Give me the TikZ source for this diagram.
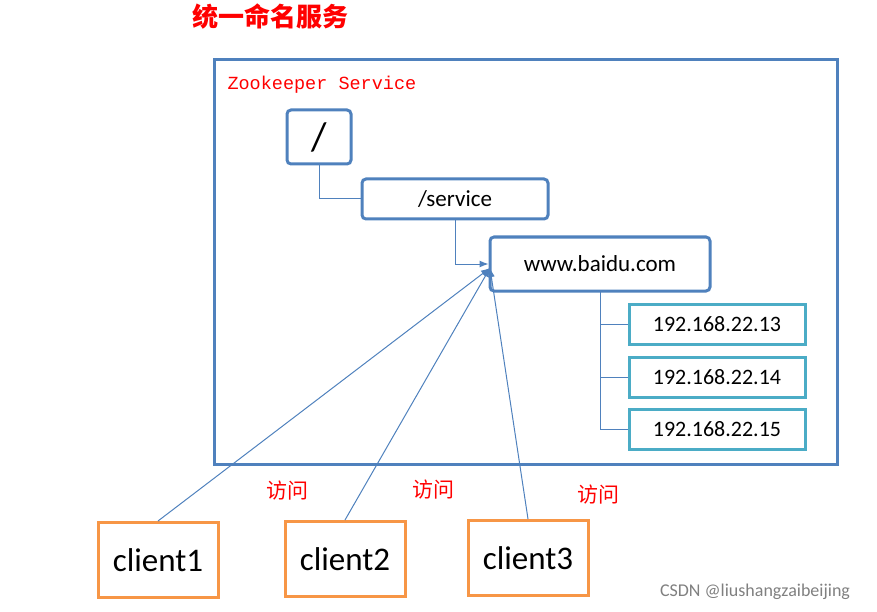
\documentclass[tikz,border=0pt]{standalone}
\usepackage{fontspec}
\setmainfont{Carlito}
\newfontfamily\cjk{Noto Sans CJK SC}
\newfontfamily\monof{Liberation Mono}
\usetikzlibrary{arrows.meta}
\definecolor{bl}{HTML}{4F81BD}
\definecolor{tl}{HTML}{4BACC6}
\definecolor{og}{HTML}{F79646}
\begin{document}
\begin{tikzpicture}[x=1pt,y=-1pt,
  bx/.style={draw=bl,line width=3pt,rounded corners=4pt},
  ip/.style={draw=tl,line width=3pt,minimum width=176pt,minimum height=40pt,font=\fontsize{22}{24}\selectfont},
  cl/.style={draw=og,line width=3pt,minimum width=120pt,minimum height=75pt,font=\fontsize{33}{36}\selectfont},
  ln/.style={draw=bl,line width=1pt},
  ar/.style={ln,-{Latex[length=9pt,width=7pt]}},
  fw/.style={text=red,font=\cjk\fontsize{21}{23}\selectfont}]
\useasboundingbox (0,0) rectangle (877,612);
\node[text=red,font=\cjk\bfseries\fontsize{26}{28}\selectfont] (t) at (270,17) {统一命名服务};
\node[draw=bl,line width=3pt,minimum width=623pt,minimum height=404pt] (zk) at (525.5,262) {};
\node[anchor=west,text=red,font=\monof\fontsize{18.5}{20}\selectfont] (zl) at (224,85) {Zookeeper Service};
\node[bx,minimum width=64pt,minimum height=54pt,font=\fontsize{40}{42}\selectfont] (root) at (319,137) {/};
\node[bx,minimum width=186pt,minimum height=40pt,font=\fontsize{23}{25}\selectfont] (svc) at (455,199) {/service};
\node[bx,minimum width=220pt,minimum height=54pt,font=\fontsize{23}{25}\selectfont] (www) at (600,264) {www.baidu.com};
\node[ip] (i1) at (717,324) {192.168.22.13};
\node[ip] (i2) at (717,377) {192.168.22.14};
\node[ip] (i3) at (717,429) {192.168.22.15};
\coordinate (tgt) at (490,268);
\draw[ln] (root.south) |- (svc.west);
\draw[ar] (svc.south) |- (www.west);
\coordinate (tr) at (600,291);
\draw[ln] (tr) |- (i3.west);
\draw[ln] (600,324) -- (i1.west);
\draw[ln] (600,377) -- (i2.west);
\node[cl] (c1) at (158,560) {client1};
\node[cl] (c2) at (345,559) {client2};
\node[cl] (c3) at (528,558) {client3};
\draw[ar] (c1.north) -- (tgt);
\draw[ar] (c2.north) -- (tgt);
\draw[ar] (c3.north) -- (tgt);
\node[fw] (f1) at (287,491) {访问};
\node[fw] (f2) at (433,490) {访问};
\node[fw] (f3) at (598,495) {访问};
\node[text=gray,font=\fontsize{18}{20}\selectfont] (w) at (755,592) {CSDN @liushangzaibeijing};
\end{tikzpicture}
\end{document}
